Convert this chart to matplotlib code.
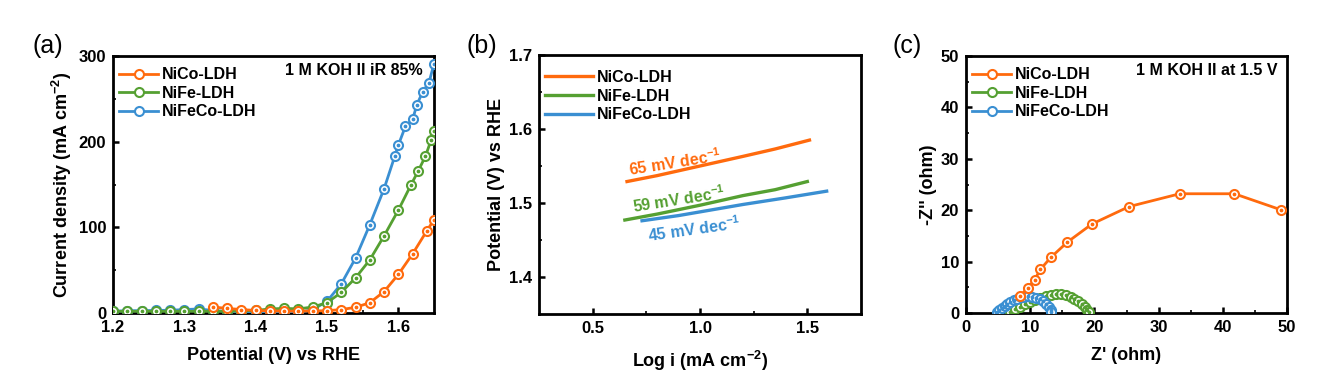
import numpy as np
import matplotlib
matplotlib.use("Agg")
import matplotlib.pyplot as plt

plt.rcParams['font.family'] = ['Liberation Sans', 'DejaVu Sans']
plt.rcParams['font.weight'] = 'bold'
plt.rcParams['mathtext.default'] = 'regular'

c_orange = '#FF6A0D'
c_green = '#55A032'
c_blue = '#3A8FD2'
names = ['NiCo-LDH', 'NiFe-LDH', 'NiFeCo-LDH']

# (a) LSV
lsv_nico_x = [1.34, 1.36, 1.38, 1.40, 1.42, 1.44, 1.46, 1.48, 1.50, 1.52, 1.54, 1.56, 1.58, 1.60, 1.62, 1.64, 1.65]
lsv_nico_y = [7, 5.4, 4, 3, 2.5, 2.2, 2.2, 2.4, 2.7, 4, 6.6, 12, 25, 45, 69, 96, 109]
lsv_nife_x = [1.20, 1.22, 1.24, 1.26, 1.28, 1.30, 1.32, 1.34, 1.36, 1.38, 1.40, 1.42, 1.44, 1.46, 1.48, 1.50,
              1.52, 1.54, 1.56, 1.58, 1.60, 1.618, 1.628, 1.638, 1.646, 1.65]
lsv_nife_y = [2, 2, 2, 2, 2, 2, 2, 2, 2, 2.5, 3, 4.7, 5.4, 4.8, 7, 12, 24, 41, 62, 90, 120, 150, 166, 183, 202, 212]
lsv_nifeco_x = [1.20, 1.22, 1.24, 1.26, 1.28, 1.30, 1.32, 1.34, 1.36, 1.38, 1.40, 1.42, 1.44, 1.46, 1.48, 1.50,
                1.52, 1.54, 1.56, 1.58, 1.595, 1.60, 1.61, 1.62, 1.626, 1.634, 1.643, 1.65]
lsv_nifeco_y = [2, 2.7, 2.7, 3, 3.2, 4, 4.7, 3, 1.8, 1, 0.5, 0.3, 0.3, 0.5, 4, 13.6, 34, 64, 103, 145, 183, 196,
                218, 226, 243, 258, 269, 291]

# (b) Tafel
tafel_nico_x = [0.66, 0.8, 1.0, 1.2, 1.35, 1.51]
tafel_nico_y = [1.529, 1.537, 1.550, 1.563, 1.573, 1.585]
tafel_nife_x = [0.65, 0.8, 1.0, 1.2, 1.35, 1.50]
tafel_nife_y = [1.477, 1.485, 1.497, 1.510, 1.518, 1.529]
tafel_nifeco_x = [0.73, 0.9, 1.0, 1.2, 1.4, 1.59]
tafel_nifeco_y = [1.476, 1.483, 1.488, 1.498, 1.507, 1.516]
tafel_labels = ['65 mV dec$^{-1}$', '59 mV dec$^{-1}$', '45 mV dec$^{-1}$']

# (c) Nyquist
eis_nico_x = [8.4, 9.6, 10.7, 11.6, 13.2, 15.8, 19.6, 25.4, 33.3, 41.8, 49.0]
eis_nico_y = [3.3, 4.86, 6.5, 8.5, 10.8, 13.8, 17.3, 20.7, 23.2, 23.2, 20.1]
eis_nife_x = [6.8, 7.6, 8.4, 9.2, 10.0, 10.8, 11.6, 12.4, 13.2, 14.0, 14.8, 15.6, 16.3, 16.9, 17.5, 18.0, 18.5, 18.9, 19.2]
eis_nife_y = [0.2, 0.7, 1.2, 1.7, 2.2, 2.6, 3.0, 3.3, 3.5, 3.6, 3.6, 3.5, 3.2, 2.8, 2.3, 1.8, 1.2, 0.6, 0.1]
eis_nifeco_x = [4.8, 5.2, 5.6, 6.0, 6.4, 6.9, 7.4, 7.9, 8.5, 9.1, 9.7, 10.3, 10.9, 11.5, 12.0, 12.5, 12.9, 13.2, 13.3]
eis_nifeco_y = [0.1, 0.5, 0.9, 1.3, 1.7, 2.1, 2.5, 2.8, 3.1, 3.2, 3.3, 3.2, 3.0, 2.7, 2.3, 1.8, 1.2, 0.6, 0.1]

FS_TICK = 12
FS_LAB = 13
FS_LEG = 11.5
FS_PANEL = 18


def dotted_line(ax, x, y, color, label, z):
    ax.plot(x, y, '-', color=color, lw=2, marker='o', ms=6.5, mfc='white', mec=color, mew=1.5,
            label=label, zorder=z)
    ax.plot(x, y, ls='none', marker='o', ms=1.7, color=color, zorder=z + 0.1)


def style_axis(ax):
    for s in ax.spines.values():
        s.set_linewidth(2)
    ax.tick_params(which='both', direction='in', top=False, right=False, labelsize=FS_TICK)
    ax.tick_params(axis='x', pad=5)
    ax.tick_params(axis='y', pad=5)
    ax.tick_params(which='major', length=4, width=1.8)
    ax.tick_params(which='minor', length=2.5, width=1.2)
    for lab in ax.get_xticklabels() + ax.get_yticklabels():
        lab.set_fontweight('bold')


def legend(ax, handles, labels, y0, hl):
    ax.legend(handles, labels, loc='upper left', bbox_to_anchor=(-0.015, y0), frameon=False,
              fontsize=FS_LEG, handlelength=hl, handletextpad=0.25, labelspacing=0.22, borderaxespad=0.3)


fig = plt.figure(figsize=(13.25, 3.9), dpi=100)
W, H = 1325, 390
ax_a = fig.add_axes([113 / W, 1 - 313 / H, 321 / W, 257 / H])
ax_b = fig.add_axes([539 / W, 1 - 314 / H, 322 / W, 259 / H])
ax_c = fig.add_axes([966 / W, 1 - 313 / H, 321 / W, 257 / H])

# (a)
dotted_line(ax_a, lsv_nifeco_x, lsv_nifeco_y, c_blue, names[2], 3)
dotted_line(ax_a, lsv_nife_x, lsv_nife_y, c_green, names[1], 4)
dotted_line(ax_a, lsv_nico_x, lsv_nico_y, c_orange, names[0], 5)
ax_a.set_xlim(1.2, 1.65)
ax_a.set_ylim(0, 300)
ax_a.set_xticks([1.2, 1.3, 1.4, 1.5, 1.6])
ax_a.set_xticks(np.arange(1.25, 1.65, 0.1), minor=True)
ax_a.set_yticks([0, 100, 200, 300])
ax_a.set_yticks([50, 150, 250], minor=True)
ax_a.set_xlabel('Potential (V) vs RHE', fontsize=FS_LAB, fontweight='bold', labelpad=9)
ax_a.set_ylabel('Current density (mA cm$^{-2}$)', fontsize=FS_LAB, fontweight='bold', labelpad=3)
ax_a.text(0.965, 0.945, '1 M KOH II iR 85%', transform=ax_a.transAxes, ha='right', va='center',
          fontsize=11.5, fontweight='bold')
h, l = ax_a.get_legend_handles_labels()
legend(ax_a, h[::-1], l[::-1], 1.0, 2.4)
style_axis(ax_a)
fig.text(32 / W, 1 - 46 / H, '(a)', fontsize=FS_PANEL, fontweight='normal', va='center')

# (b)
for x, y, c, n in zip([tafel_nico_x, tafel_nife_x, tafel_nifeco_x],
                      [tafel_nico_y, tafel_nife_y, tafel_nifeco_y],
                      [c_orange, c_green, c_blue], names):
    ax_b.plot(x, y, '-', color=c, lw=2.4, label=n)
ax_b.text(0.66, 1.536, tafel_labels[0], color=c_orange, fontsize=11.5, fontweight='bold', rotation=9)
ax_b.text(0.68, 1.487, tafel_labels[1], color=c_green, fontsize=11.5, fontweight='bold', rotation=9)
ax_b.text(0.75, 1.447, tafel_labels[2], color=c_blue, fontsize=11.5, fontweight='bold', rotation=8)
ax_b.set_xlim(0.25, 1.75)
ax_b.set_ylim(1.35, 1.7)
ax_b.set_xticks([0.5, 1.0, 1.5])
ax_b.set_xticks([0.75, 1.25], minor=True)
ax_b.set_yticks([1.4, 1.5, 1.6, 1.7])
ax_b.set_yticks([1.45, 1.55, 1.65], minor=True)
ax_b.set_xlabel('Log i (mA cm$^{-2}$)', fontsize=FS_LAB, fontweight='bold', labelpad=9)
ax_b.set_ylabel('Potential (V) vs RHE', fontsize=FS_LAB, fontweight='bold', labelpad=3)
h, l = ax_b.get_legend_handles_labels()
legend(ax_b, h, l, 0.985, 3.0)
style_axis(ax_b)
fig.text(466 / W, 1 - 46 / H, '(b)', fontsize=FS_PANEL, fontweight='normal', va='center')

# (c)
dotted_line(ax_c, eis_nife_x, eis_nife_y, c_green, names[1], 3)
dotted_line(ax_c, eis_nifeco_x, eis_nifeco_y, c_blue, names[2], 4)
dotted_line(ax_c, eis_nico_x, eis_nico_y, c_orange, names[0], 5)
ax_c.set_xlim(0, 50)
ax_c.set_ylim(0, 50)
ax_c.set_xticks([0, 10, 20, 30, 40, 50])
ax_c.set_xticks([5, 15, 25, 35, 45], minor=True)
ax_c.set_yticks([0, 10, 20, 30, 40, 50])
ax_c.set_yticks([5, 15, 25, 35, 45], minor=True)
ax_c.set_xlabel("Z' (ohm)", fontsize=FS_LAB, fontweight='bold', labelpad=9)
ax_c.set_ylabel("-Z'' (ohm)", fontsize=FS_LAB, fontweight='bold', labelpad=3)
ax_c.text(0.97, 0.945, '1 M KOH II at 1.5 V', transform=ax_c.transAxes, ha='right', va='center',
          fontsize=11.5, fontweight='bold')
h, l = ax_c.get_legend_handles_labels()
order = [l.index(n) for n in names]
legend(ax_c, [h[i] for i in order], [l[i] for i in order], 1.0, 2.4)
style_axis(ax_c)
fig.text(892 / W, 1 - 46 / H, '(c)', fontsize=FS_PANEL, fontweight='normal', va='center')

fig.savefig('out.png', dpi=100)
